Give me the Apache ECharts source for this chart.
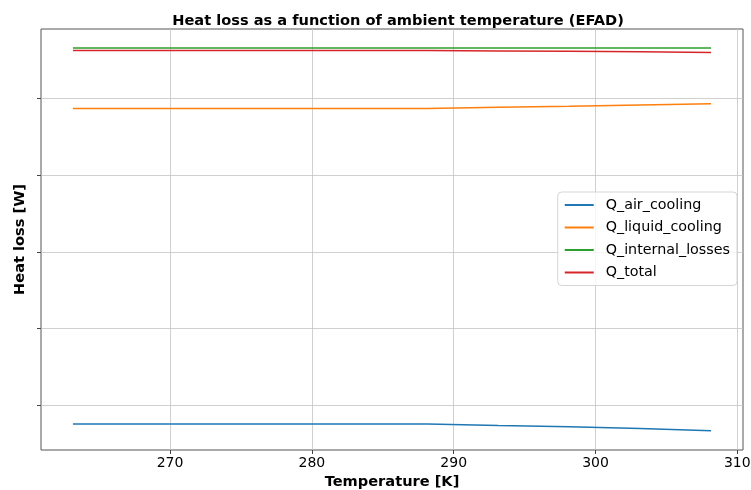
<!DOCTYPE html>
<html>
<head>
<meta charset="utf-8">
<script src="https://cdn.jsdelivr.net/npm/echarts@6/dist/echarts.min.js"></script>
<style>html,body{margin:0;padding:0;background:#fff}#c{width:751px;height:490px}</style>
</head>
<body>
<div id="c"></div>
<script>
const temperatures = [263.15, 268.15, 273.15, 278.15, 283.15, 288.15, 293.15, 298.15, 303.15, 308.15];
const qAirCooling = [75.2, 75.2, 75.2, 75.2, 75.2, 75.2, 73.3, 71.8, 69.5, 66.4];
const qLiquidCooling = [487.3, 487.3, 487.3, 487.3, 487.3, 487.3, 488.9, 490.2, 491.8, 493.3];
const qInternalLosses = [566.1, 566.1, 566.1, 566.1, 566.1, 566.1, 566.1, 566.1, 566.1, 566.1];
const qTotal = [562.8, 562.8, 562.8, 562.8, 562.8, 562.8, 562.4, 562.0, 561.3, 560.3];
const seriesNames = ['Q_air_cooling', 'Q_liquid_cooling', 'Q_internal_losses', 'Q_total'];
const colors = ['#1f77b4', '#ff7f0e', '#2ca02c', '#d62728'];
const xTicks = [270, 280, 290, 300, 310];
const yTicks = [100, 200, 300, 400, 500];

const font = 'DejaVu Sans';
const pair = arr => temperatures.map((t, i) => [t, arr[i]]);
const allData = [qAirCooling, qLiquidCooling, qInternalLosses, qTotal];

const chart = echarts.init(document.getElementById('c'), null, {renderer: 'canvas'});
chart.setOption({
  animation: false,
  backgroundColor: '#fff',
  title: {
    text: 'Heat loss as a function of ambient temperature (EFAD)',
    left: 393, textAlign: 'center', top: 9,
    textStyle: {fontFamily: font, fontSize: 14.6, fontWeight: 'bold', color: '#000'}
  },
  grid: {left: 41, right: 8, top: 29, bottom: 40, outerBoundsMode: 'none', containLabel: false,
    show: true, borderColor: '#555', borderWidth: 1, backgroundColor: 'transparent'},
  legend: {
    orient: 'vertical', right: 14, top: 192,
    data: seriesNames,
    itemWidth: 29, itemHeight: 14, itemGap: 8.5,
    padding: [6, 7, 6, 6],
    itemStyle: {opacity: 0},
    backgroundColor: 'rgba(255,255,255,0.8)', borderColor: '#d5d5d5', borderWidth: 1, borderRadius: 4,
    textStyle: {fontFamily: font, fontSize: 14.3, color: '#000', padding: [0, 0, 0, 7]}
  },
  xAxis: {
    type: 'value', min: 260.9, max: 310.4,
    name: 'Temperature [K]', nameLocation: 'middle', nameGap: 22,
    nameTextStyle: {fontFamily: font, fontSize: 14.6, fontWeight: 'bold', color: '#000'},
    axisLine: {show: false},
    axisTick: {show: true, length: 4, lineStyle: {color: '#444'}, customValues: xTicks},
    axisLabel: {fontFamily: font, fontSize: 14, color: '#000', margin: 6, customValues: xTicks, formatter: v => String(v)},
    splitLine: {show: true, lineStyle: {color: '#c4c4c4', width: 0.8}}
  },
  yAxis: {
    type: 'value', min: 41.3, max: 591,
    name: 'Heat loss [W]', nameLocation: 'middle', nameGap: 13,
    nameTextStyle: {fontFamily: font, fontSize: 14.6, fontWeight: 'bold', color: '#000'},
    axisLine: {show: false},
    axisTick: {show: true, length: 4, lineStyle: {color: '#444'}, customValues: yTicks},
    axisLabel: {show: false},
    splitLine: {show: true, lineStyle: {color: '#c4c4c4', width: 0.8}}
  },
  series: seriesNames.map((n, i) => ({
    name: n, type: 'line', data: pair(allData[i]),
    symbol: 'none', showSymbol: false,
    lineStyle: {color: colors[i], width: 1.5},
    itemStyle: {color: colors[i]},
    z: 2 + i
  }))
});
</script>
</body>
</html>
